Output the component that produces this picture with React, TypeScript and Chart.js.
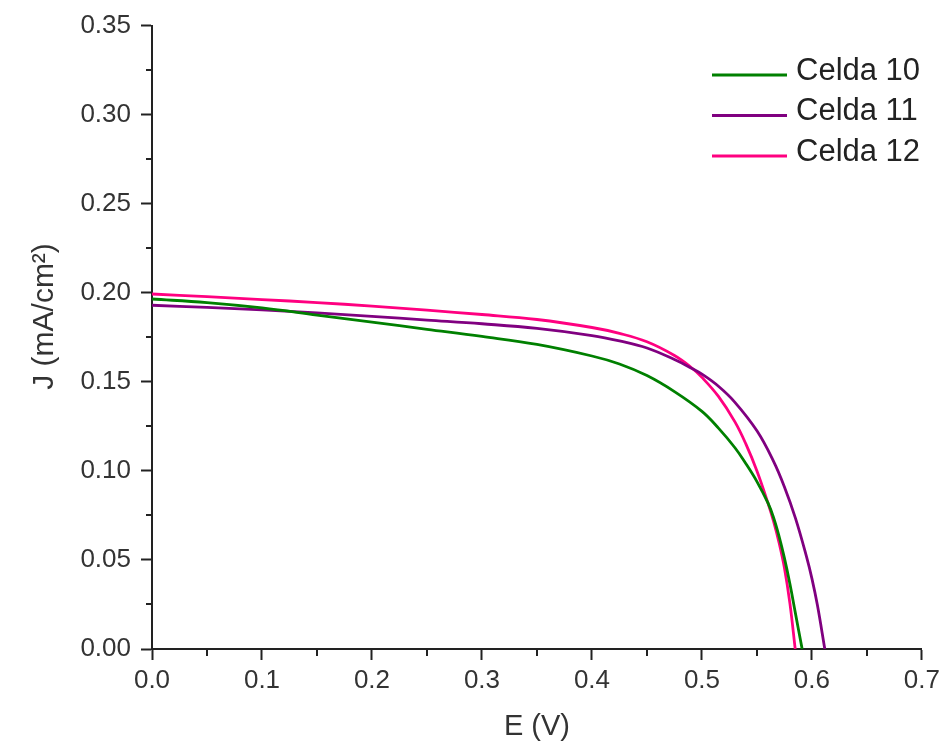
import React, { useEffect, useRef } from "react";
import { Chart, registerables } from "chart.js";

Chart.register(...registerables);

// ---- Data ----
const seriesLabels = ["Celda 10", "Celda 11", "Celda 12"];
const seriesColors = ["#008000", "#800080", "#ff0080"];

const celda10E = [0, 0.05, 0.1, 0.15, 0.2, 0.25, 0.3, 0.35, 0.4, 0.425, 0.45, 0.475, 0.5, 0.515, 0.53, 0.54, 0.55, 0.56, 0.565, 0.57, 0.575, 0.58, 0.585, 0.5911];
const celda10J = [0.1965, 0.1945, 0.1915, 0.1875, 0.1835, 0.1795, 0.1755, 0.171, 0.1645, 0.16, 0.1535, 0.1445, 0.1334, 0.124, 0.113, 0.104, 0.094, 0.082, 0.074, 0.0635, 0.051, 0.0365, 0.02, 0];

const celda11E = [0, 0.05, 0.1, 0.15, 0.2, 0.25, 0.3, 0.35, 0.4, 0.425, 0.45, 0.475, 0.49, 0.5, 0.515, 0.53, 0.55, 0.565, 0.575, 0.585, 0.595, 0.6, 0.605, 0.6117];
const celda11J = [0.193, 0.1918, 0.1904, 0.1887, 0.1868, 0.1847, 0.1826, 0.18, 0.176, 0.173, 0.169, 0.1625, 0.1578, 0.1543, 0.1475, 0.1385, 0.1225, 0.1055, 0.091, 0.0735, 0.052, 0.0395, 0.0245, 0];

const celda12E = [0, 0.05, 0.1, 0.15, 0.2, 0.25, 0.3, 0.35, 0.4, 0.425, 0.45, 0.475, 0.49, 0.5, 0.515, 0.53, 0.54, 0.55, 0.56, 0.565, 0.57, 0.575, 0.58, 0.5848];
const celda12J = [0.1993, 0.1978, 0.1962, 0.1945, 0.1925, 0.1902, 0.1878, 0.185, 0.1805, 0.1772, 0.1725, 0.1648, 0.1582, 0.1525, 0.1418, 0.1275, 0.115, 0.1, 0.082, 0.072, 0.06, 0.0455, 0.0255, 0];

const xMajorTicks = [0, 0.1, 0.2, 0.3, 0.4, 0.5, 0.6, 0.7];
const xMinorTicks = [0.05, 0.15, 0.25, 0.35, 0.45, 0.55, 0.65];
const yMajorTicks = [0, 0.05, 0.1, 0.15, 0.2, 0.25, 0.3, 0.35];
const yMinorTicks = [0.025, 0.075, 0.125, 0.175, 0.225, 0.275, 0.325];

const xTitle = "E (V)";
const yTitle = "     J (mA/cm\u00B2)";

const seriesE = [celda10E, celda11E, celda12E];
const seriesJ = [celda10J, celda11J, celda12J];

const AXIS_COLOR = "#222222";
const FONT = "'Liberation Sans', Arial, sans-serif";

const minorTickPlugin = {
  id: "minorTicks",
  afterDraw(chart: any) {
    const { ctx, chartArea, scales } = chart;
    ctx.save();
    ctx.strokeStyle = AXIS_COLOR;
    ctx.lineWidth = 2;
    ctx.beginPath();
    xMinorTicks.forEach((v) => {
      const px = Math.round(scales.x.getPixelForValue(v));
      ctx.moveTo(px, chartArea.bottom);
      ctx.lineTo(px, chartArea.bottom + 7);
    });
    yMinorTicks.forEach((v) => {
      const py = Math.round(scales.y.getPixelForValue(v));
      ctx.moveTo(chartArea.left - 6, py);
      ctx.lineTo(chartArea.left, py);
    });
    ctx.stroke();
    ctx.restore();
  },
};

const legendPlugin = {
  id: "insetLegend",
  afterDraw(chart: any) {
    const { ctx } = chart;
    ctx.save();
    chart.data.datasets.forEach((ds: any, i: number) => {
      const rowY = 75 + i * 40.5;
      ctx.strokeStyle = ds.borderColor;
      ctx.lineWidth = 3;
      ctx.beginPath();
      ctx.moveTo(712, rowY);
      ctx.lineTo(787, rowY);
      ctx.stroke();
      ctx.fillStyle = "#222222";
      ctx.font = "31px " + FONT;
      ctx.textBaseline = "middle";
      ctx.textAlign = "left";
      ctx.fillText(ds.label, 796, rowY - 4);
    });
    ctx.restore();
  },
};

export default function App() {
  const canvasRef = useRef<HTMLCanvasElement | null>(null);

  useEffect(() => {
    if (!canvasRef.current) return;
    const datasets = seriesLabels.map((label, i) => ({
      label,
      data: seriesE[i].map((e, k) => ({ x: e, y: seriesJ[i][k] })),
      borderColor: seriesColors[i],
      backgroundColor: seriesColors[i],
      borderWidth: 2.8,
      pointRadius: 0,
      fill: false,
      tension: 0.4,
    }));

    const chart = new Chart(canvasRef.current, {
      type: "line",
      data: { datasets },
      options: {
        animation: false,
        responsive: false,
        layout: { padding: { top: 22, right: 21, left: 0, bottom: 0 } },
        plugins: {
          legend: { display: false },
          tooltip: { enabled: false },
        },
        scales: {
          x: {
            type: "linear",
            min: 0,
            max: 0.7,
            afterBuildTicks: (scale: any) => {
              scale.ticks = xMajorTicks.map((v) => ({ value: v }));
            },
            afterFit: (scale: any) => {
              scale.height = 97;
            },
            border: { display: true, color: AXIS_COLOR, width: 2 },
            grid: {
              drawOnChartArea: false,
              drawTicks: true,
              tickLength: 11,
              tickColor: AXIS_COLOR,
              tickWidth: 2,
            },
            ticks: {
              color: "#333333",
              padding: 5,
              maxRotation: 0,
              font: { family: FONT, size: 26 },
              callback: (v: any) => Number(v).toFixed(1),
            },
            title: {
              display: true,
              text: xTitle,
              color: "#333333",
              padding: { top: 0, bottom: 2 },
              font: { family: FONT, size: 29 },
            },
          },
          y: {
            type: "linear",
            min: 0,
            max: 0.35,
            afterBuildTicks: (scale: any) => {
              scale.ticks = yMajorTicks.map((v) => ({ value: v }));
            },
            afterFit: (scale: any) => {
              scale.width = 152;
            },
            border: { display: true, color: AXIS_COLOR, width: 2 },
            grid: {
              drawOnChartArea: false,
              drawTicks: true,
              tickLength: 11,
              tickColor: AXIS_COLOR,
              tickWidth: 2,
            },
            ticks: {
              color: "#333333",
              padding: 10,
              font: { family: FONT, size: 26 },
              callback: (v: any) => Number(v).toFixed(2),
            },
            title: {
              display: true,
              text: yTitle,
              color: "#333333",
              padding: { top: 27, bottom: 0 },
              font: { family: FONT, size: 30 },
            },
          },
        },
      },
      plugins: [minorTickPlugin, legendPlugin],
    });

    return () => chart.destroy();
  }, []);

  return (
    <div style={{ position: "absolute", left: 0, top: 0, width: 945, height: 746, background: "#ffffff" }}>
      <canvas ref={canvasRef} width={945} height={746} style={{ display: "block" }} />
    </div>
  );
}
